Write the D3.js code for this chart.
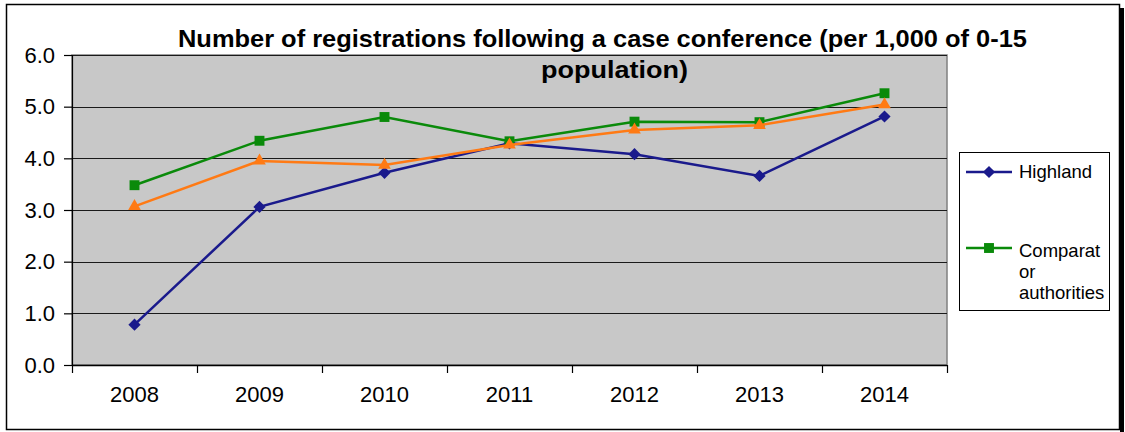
<!DOCTYPE html>
<html>
<head>
<meta charset="utf-8">
<script src="https://cdn.jsdelivr.net/npm/d3@7"></script>
<style>
  html, body { margin: 0; padding: 0; background: #fff; }
  svg { display: block; }
  text { font-family: "Liberation Sans", Arial, sans-serif; fill: #000; }
</style>
</head>
<body>
<svg id="chart" width="1125" height="432"></svg>
<script>
// Registrations following a case conference, per 1,000 of 0-15 population
const years = ["2008", "2009", "2010", "2011", "2012", "2013", "2014"];
const highland = [0.78, 3.06, 3.72, 4.29, 4.08, 3.66, 4.81];
const scotland = [3.07, 3.95, 3.87, 4.26, 4.55, 4.64, 5.04];
const comparators = [3.48, 4.34, 4.80, 4.33, 4.71, 4.70, 5.26];
const yTicks = [0, 1, 2, 3, 4, 5, 6];
const titleLines = ["Number of registrations following a case conference (per 1,000 of 0-15", "population)"];

const svg = d3.select("#chart");
const plot = { left: 72, right: 947, top: 55, bottom: 365 };

const x = d3.scaleBand().domain(years).range([plot.left, plot.right]);
const y = d3.scaleLinear().domain([0, 6]).range([plot.bottom, plot.top]);
const cx = d => x(d) + x.bandwidth() / 2;

// Outer chart frame with a drop shadow on the right
svg.append("rect").attr("x", 1120).attr("y", 8).attr("width", 4).attr("height", 424).attr("fill", "#000");
svg.append("rect").attr("x", 6.5).attr("y", 4.5).attr("width", 1113).attr("height", 425)
  .attr("fill", "#fff").attr("stroke", "#000").attr("stroke-width", 1.5);

// Plot area
svg.append("rect").attr("x", plot.left).attr("y", plot.top)
  .attr("width", plot.right - plot.left).attr("height", plot.bottom - plot.top)
  .attr("fill", "#c8c8c8").attr("stroke", "#808080").attr("stroke-width", 1.5);

// Horizontal gridlines
svg.append("g").selectAll("line").data(yTicks.filter(t => t > 0)).join("line")
  .attr("x1", plot.left).attr("x2", plot.right)
  .attr("y1", d => Math.round(y(d)) + 0.5).attr("y2", d => Math.round(y(d)) + 0.5)
  .attr("stroke", "#1a1a1a").attr("stroke-width", 1.2);

// Y axis
const yAxis = svg.append("g").attr("transform", `translate(${plot.left},0)`)
  .call(d3.axisLeft(y).tickValues(yTicks).tickFormat(d3.format(".1f")).tickSize(8).tickPadding(9));
yAxis.select(".domain").attr("stroke", "#000").attr("stroke-width", 1.2);
yAxis.selectAll(".tick line").attr("stroke", "#000").attr("stroke-width", 1.2);
yAxis.selectAll("text").style("font-size", "22px").style("font-family", '"Liberation Sans", Arial, sans-serif');

// X axis: labels centred in each band, tick marks on the band boundaries
const xAxis = svg.append("g").attr("transform", `translate(0,${plot.bottom})`)
  .call(d3.axisBottom(x).tickSize(0).tickPadding(21));
xAxis.select(".domain").remove();
xAxis.selectAll("text").style("font-size", "22px").style("font-family", '"Liberation Sans", Arial, sans-serif');
svg.append("line").attr("x1", plot.left).attr("x2", plot.right)
  .attr("y1", plot.bottom + 0.5).attr("y2", plot.bottom + 0.5).attr("stroke", "#000").attr("stroke-width", 1.5);
const bounds = years.map(d => x(d)).concat([x.range()[1]]);
svg.append("g").selectAll("line").data(bounds).join("line")
  .attr("x1", d => Math.round(d) + 0.5).attr("x2", d => Math.round(d) + 0.5)
  .attr("y1", plot.bottom).attr("y2", plot.bottom + 8)
  .attr("stroke", "#000").attr("stroke-width", 1.2);

// Series
const line = d3.line().x((d, i) => cx(years[i])).y(d => y(d));
const series = [
  { name: "Highland", values: highland, color: "#1a1a8c", marker: d3.symbolDiamond2, size: 95 },
  { name: "Comparator authorities", values: comparators, color: "#0a8a0a", marker: d3.symbolSquare2, size: 125 },
  { name: "Scotland", values: scotland, color: "#ff7a14", marker: d3.symbolTriangle2, size: 115 }
];
series.forEach(s => {
  svg.append("path").datum(s.values).attr("d", line)
    .attr("fill", "none").attr("stroke", s.color).attr("stroke-width", 2.5);
  svg.append("g").selectAll("path").data(s.values).join("path")
    .attr("transform", (d, i) => `translate(${cx(years[i])},${y(d)})`)
    .attr("d", d3.symbol().type(s.marker).size(s.size))
    .attr("fill", s.color);
});

// Title
const title = svg.append("g").style("font-family", '"Liberation Sans Narrow", "Arial Narrow", "Liberation Sans", Arial, sans-serif')
  .style("font-weight", "bold").style("font-size", "24px");
title.append("text").attr("x", 602.5).attr("y", 47).attr("text-anchor", "middle")
  .attr("textLength", 849).attr("lengthAdjust", "spacingAndGlyphs").text(titleLines[0]);
title.append("text").attr("x", 614.5).attr("y", 78).attr("text-anchor", "middle")
  .attr("textLength", 147).attr("lengthAdjust", "spacingAndGlyphs").text(titleLines[1]);

// Legend
const lg = svg.append("g");
lg.append("rect").attr("x", 959.5).attr("y", 152.5).attr("width", 150).attr("height", 158)
  .attr("fill", "#fff").attr("stroke", "#000").attr("stroke-width", 1);
const legendItems = [
  { s: series[0], y: 172, lines: ["Highland"], ty: 178 },
  { s: series[1], y: 248, lines: ["Comparat", "or", "authorities"], ty: 257 }
];
legendItems.forEach(it => {
  lg.append("line").attr("x1", 966).attr("x2", 1012).attr("y1", it.y).attr("y2", it.y)
    .attr("stroke", it.s.color).attr("stroke-width", 2.5);
  lg.append("path").attr("transform", `translate(989,${it.y})`)
    .attr("d", d3.symbol().type(it.s.marker).size(it.s.size)).attr("fill", it.s.color);
  const t = lg.append("text").attr("x", 1019).attr("y", it.ty).style("font-size", "18.5px");
  it.lines.forEach((l, i) => t.append("tspan").attr("x", 1019).attr("dy", i ? 21 : 0).text(l));
});
</script>
</body>
</html>
